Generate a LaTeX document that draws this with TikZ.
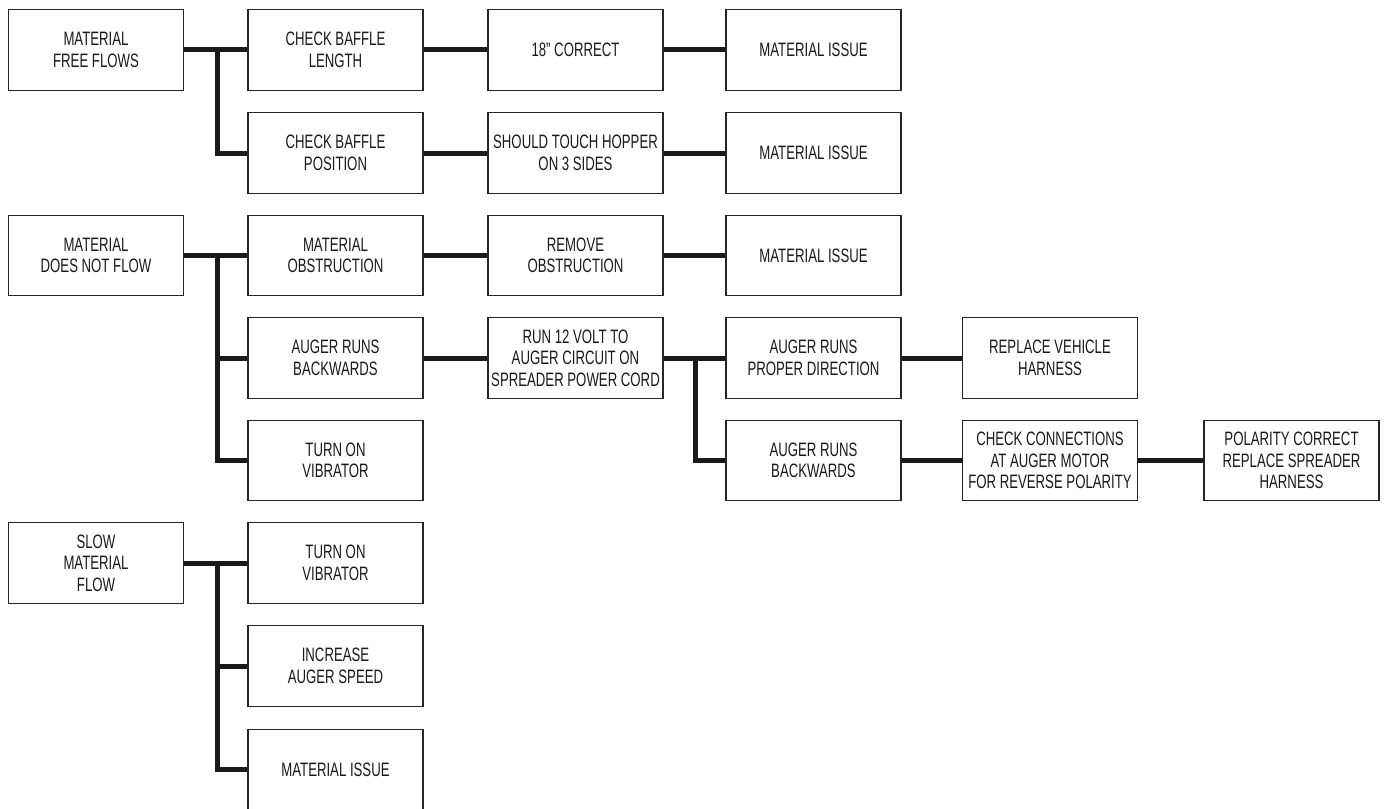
\documentclass[tikz,border=0pt]{standalone}
\usepackage{fontspec}
\setmainfont{Liberation Sans}[FakeStretch=0.68]
\usetikzlibrary{calc}

\tikzset{
  stepbox/.style={draw=black!85, line width=0.6pt, minimum width=87.5pt,
    minimum height=40.25pt, inner sep=0pt, align=center, text=black!90,
    font=\fontsize{9.7}{10.8}\selectfont},
  link/.style={-, line width=2.5pt, color=black!90, line join=miter}
}

\begin{document}
\begin{tikzpicture}[x=0.5pt, y=-0.5pt]
    \useasboundingbox (0,0) rectangle (1384,808);

    % free flows
    \node [stepbox] (free) at (96, 50) {MATERIAL\\FREE FLOWS};
    \node [stepbox] (baflen) at (335.5, 50) {CHECK BAFFLE\\LENGTH};
    \node [stepbox] (bafpos) at (335.5, 153) {CHECK BAFFLE\\POSITION};
    \node [stepbox] (correct) at (575.5, 50) {18" CORRECT};
    \node [stepbox] (touch) at (575.5, 153) {SHOULD TOUCH HOPPER\\ON 3 SIDES};
    \node [stepbox] (issuea) at (813.5, 50) {MATERIAL ISSUE};
    \node [stepbox] (issueb) at (813.5, 153) {MATERIAL ISSUE};

    % does not flow
    \node [stepbox] (noflow) at (96, 255.5) {MATERIAL\\DOES NOT FLOW};
    \node [stepbox] (obstr) at (335.5, 255.5) {MATERIAL\\OBSTRUCTION};
    \node [stepbox] (back) at (335.5, 358) {AUGER RUNS\\BACKWARDS};
    \node [stepbox] (vibra) at (335.5, 460.5) {TURN ON\\VIBRATOR};
    \node [stepbox] (remove) at (575.5, 255.5) {REMOVE\\OBSTRUCTION};
    \node [stepbox] (volt) at (575.5, 358) {RUN 12 VOLT TO\\AUGER CIRCUIT ON\\SPREADER POWER CORD};
    \node [stepbox] (issuec) at (813.5, 255.5) {MATERIAL ISSUE};
    \node [stepbox] (proper) at (813.5, 358) {AUGER RUNS\\PROPER DIRECTION};
    \node [stepbox] (backb) at (813.5, 460.5) {AUGER RUNS\\BACKWARDS};
    \node [stepbox] (vehicle) at (1050, 358) {REPLACE VEHICLE\\HARNESS};
    \node [stepbox] (conn) at (1050, 460.5) {CHECK CONNECTIONS\\AT AUGER MOTOR\\FOR REVERSE POLARITY};
    \node [stepbox] (polar) at (1291.5, 460.5) {POLARITY CORRECT\\REPLACE SPREADER\\HARNESS};

    % slow flow
    \node [stepbox] (slow) at (96, 563) {SLOW\\MATERIAL\\FLOW};
    \node [stepbox] (vibrb) at (335.5, 563) {TURN ON\\VIBRATOR};
    \node [stepbox] (speed) at (335.5, 666) {INCREASE\\AUGER SPEED};
    \node [stepbox] (issued) at (335.5, 769.5) {MATERIAL ISSUE};

    \coordinate (ja) at ($(free.east)!0.53!(baflen.west)$);
    \coordinate (jb) at ($(noflow.east)!0.53!(obstr.west)$);
    \coordinate (jc) at ($(volt.east)!0.52!(proper.west)$);
    \coordinate (jd) at ($(slow.east)!0.53!(vibrb.west)$);

    \draw [link] (free) -- (baflen) -- (correct) -- (issuea);
    \draw [link] (ja) |- (bafpos);
    \draw [link] (bafpos) -- (touch) -- (issueb);

    \draw [link] (noflow) -- (obstr) -- (remove) -- (issuec);
    \draw [link] (jb) |- (back);
    \draw [link] (jb) |- (vibra);
    \draw [link] (back) -- (volt) -- (proper) -- (vehicle);
    \draw [link] (jc) |- (backb);
    \draw [link] (backb) -- (conn) -- (polar);

    \draw [link] (slow) -- (vibrb);
    \draw [link] (jd) |- (speed);
    \draw [link] (jd) |- (issued);
\end{tikzpicture}
\end{document}
